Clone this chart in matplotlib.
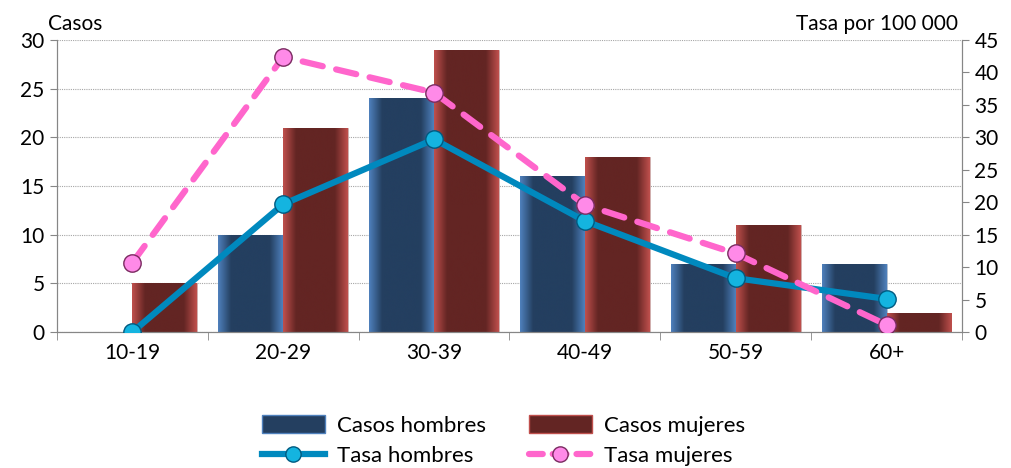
import numpy as np
import matplotlib.pyplot as plt
from matplotlib.colors import LinearSegmentedColormap
from matplotlib.lines import Line2D
from matplotlib.patches import Patch

plt.rcParams['font.family'] = ['Lato', 'DejaVu Sans']

grupos = ['10-19', '20-29', '30-39', '40-49', '50-59', '60+']
casos_hombres = [0, 10, 24, 16, 7, 7]
casos_mujeres = [5, 21, 29, 18, 11, 2]
tasa_hombres = [0, 19.7, 29.7, 17.1, 8.3, 5.1]
tasa_mujeres = [10.7, 42.4, 36.9, 19.6, 12.1, 1.1]

azul = '#243F60'
azul_claro = '#4F81BD'
rojo = '#632523'
rojo_claro = '#C0504D'
cian = '#0089BE'
rosa = '#FF66CC'
fs = 15

fig = plt.figure(figsize=(10.11, 4.68), dpi=100)
ax = fig.add_axes([0.0564, 0.2906, 0.8951, 0.6239])
ax2 = ax.twinx()

x = np.arange(len(grupos))
w = 0.43


def bevel(ax, bars, dark, light):
    # horizontal shading: lighter at both sides, dark in the middle
    cmap = LinearSegmentedColormap.from_list('b', [light, dark, dark, dark, dark, light])
    grad = np.linspace(0, 1, 256).reshape(1, -1)
    for b in bars:
        if b.get_height() <= 0:
            continue
        x0, y0 = b.get_x(), b.get_y()
        im = ax.imshow(grad, cmap=cmap, aspect='auto', zorder=2,
                       extent=[x0, x0 + b.get_width(), y0, y0 + b.get_height()],
                       interpolation='bicubic')
        im.set_clip_path(b)


bh = ax.bar(x - w / 2, casos_hombres, w, color=azul, edgecolor='#B9C7DA', linewidth=0.6, zorder=2)
bm = ax.bar(x + w / 2, casos_mujeres, w, color=rojo, edgecolor='#D8B5B4', linewidth=0.6, zorder=2)
bevel(ax, bh, azul, azul_claro)
bevel(ax, bm, rojo, rojo_claro)

ax.set_xlim(-0.5, len(grupos) - 0.5)
ax.set_ylim(0, 30)
ax.set_yticks(range(0, 31, 5))
ax.yaxis.grid(True, linestyle=(0, (1, 1)), color='#A6A6A6', linewidth=0.8)
ax.set_axisbelow(True)

ax.set_xticks(x)
ax.set_xticklabels(grupos)
ax.set_xticks(np.arange(-0.5, len(grupos)), minor=True)
ax.tick_params(axis='x', which='major', length=0, pad=8, labelsize=fs)
ax.tick_params(axis='x', which='minor', length=6, color='#868686', direction='out')
ax.tick_params(axis='y', labelsize=fs, length=5, color='#868686', pad=4)

ax2.set_ylim(0, 45)
ax2.set_yticks(range(0, 46, 5))
ax2.tick_params(axis='y', labelsize=fs, length=5, color='#868686', pad=4)

for a in (ax, ax2):
    a.spines['top'].set_visible(False)
    for s in ('left', 'right', 'bottom'):
        a.spines[s].set_color('#868686')

ax2.plot(x, tasa_hombres, color=cian, linewidth=4.5, zorder=4, solid_capstyle='round',
         marker='o', markersize=12.5, markerfacecolor='#14B4E0', markeredgecolor='#005A80',
         markeredgewidth=1)
ax2.plot(x, tasa_mujeres, color=rosa, linewidth=4.5, zorder=5,
         linestyle=(0, (3.3, 2.2)), dash_capstyle='round',
         marker='o', markersize=12.5, markerfacecolor='#FF8AE8', markeredgecolor='#7A2A60',
         markeredgewidth=1)

fig.text(0.047, 0.948, 'Casos', fontsize=fs, ha='left', va='center')
fig.text(0.948, 0.948, 'Tasa por 100 000', fontsize=fs, ha='right', va='center')

handles = [
    Patch(facecolor=azul, edgecolor=azul_claro),
    Line2D([], [], color=cian, linewidth=4.5, marker='o', markersize=11,
           markerfacecolor='#14B4E0', markeredgecolor='#005A80'),
    Patch(facecolor=rojo, edgecolor=rojo_claro),
    Line2D([], [], color=rosa, linewidth=4.5, linestyle=(0, (2.2, 1.6)), dash_capstyle='round',
           marker='o', markersize=11, markerfacecolor='#FF8AE8', markeredgecolor='#7A2A60'),
]
labels = ['Casos hombres', 'Tasa hombres', 'Casos mujeres', 'Tasa mujeres']
fig.legend(handles, labels, ncol=2, loc='center', bbox_to_anchor=(0.498, 0.058),
           frameon=False, fontsize=16, handlelength=2.85, handleheight=0.85,
           columnspacing=1.9, labelspacing=0.45, handletextpad=0.55,
           borderpad=0, borderaxespad=0)

fig.savefig('out.png', dpi=100)
